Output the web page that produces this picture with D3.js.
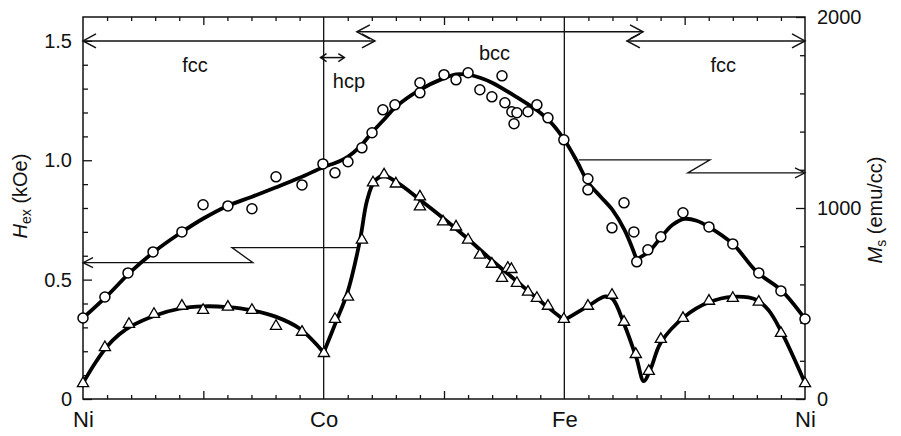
<!DOCTYPE html>
<html>
<head>
<meta charset="utf-8">
<script src="https://cdn.jsdelivr.net/npm/d3@7"></script>
<style>
  html, body { margin: 0; padding: 0; background: #fff; }
  svg { display: block; font-family: "Liberation Sans", Arial, Helvetica, sans-serif; }
</style>
</head>
<body>
<svg id="chart" width="901" height="436"></svg>
<script>
// Composition path Ni -> Co -> Fe -> Ni, 10 steps per leg
const endpointNames = ["Ni", "Co", "Fe", "Ni"];
const endpointPos = [0, 10, 20, 30];

// Tick labels
const hexTickValues = [0, 0.5, 1.0, 1.5];
const hexTickLabels = ["0", "0.5", "1.0", "1.5"];
const msTickValues = [0, 1000, 2000];
const msTickLabels = ["0", "1000", "2000"];

// Exchange field H_ex (kOe), measured (triangles)
const hexX = [0, 0.91, 1.91, 2.95, 4.11, 4.99, 6.02, 7.02, 8.02, 9.1, 10.01, 10.47, 11.01, 11.59, 12.05, 12.51, 13.0, 14.0, 14.0, 14.96, 15.5, 16.0, 16.49, 16.99, 17.41, 17.65, 17.8, 18.03, 18.49, 18.86, 19.32, 19.98, 20.98, 21.98, 22.48, 22.97, 23.51, 24.01, 24.93, 26.01, 27.0, 28.08, 29.0, 30];
const hexY = [0.067, 0.218, 0.315, 0.357, 0.391, 0.374, 0.387, 0.374, 0.307, 0.282, 0.193, 0.336, 0.429, 0.668, 0.908, 0.941, 0.903, 0.849, 0.807, 0.744, 0.723, 0.668, 0.605, 0.567, 0.508, 0.55, 0.545, 0.487, 0.45, 0.424, 0.391, 0.336, 0.391, 0.437, 0.324, 0.189, 0.118, 0.252, 0.34, 0.412, 0.424, 0.408, 0.277, 0.067];

// H_ex guide curve, one branch per leg (kinks at Co and Fe)
const hexCurve1X = [0, 0.5, 1, 1.5, 2, 3, 4, 5, 6, 7, 8, 9, 10];
const hexCurve1Y = [0.067, 0.15, 0.22, 0.27, 0.305, 0.35, 0.378, 0.388, 0.385, 0.372, 0.345, 0.295, 0.195];
const hexCurve2X = [10, 10.5, 11, 11.5, 11.8, 12.1, 12.5, 13, 14, 15, 16, 17, 18, 19, 20];
const hexCurve2Y = [0.195, 0.32, 0.45, 0.66, 0.83, 0.91, 0.935, 0.91, 0.835, 0.755, 0.67, 0.58, 0.495, 0.41, 0.33];
const hexCurve3X = [20, 21, 21.7, 22, 22.5, 23, 23.3, 23.6, 24, 25, 26, 27, 28, 28.5, 29, 29.5, 30];
const hexCurve3Y = [0.33, 0.39, 0.43, 0.42, 0.31, 0.17, 0.075, 0.13, 0.235, 0.345, 0.405, 0.428, 0.415, 0.37, 0.285, 0.18, 0.067];

// Saturation magnetization M_s (emu/cc), measured (circles)
const msX = [0, 0.91, 1.87, 2.91, 4.11, 4.99, 6.02, 7.02, 8.02, 9.1, 9.97, 10.47, 11.01, 11.59, 12.01, 12.46, 12.96, 14.0, 14.0, 15.0, 15.5, 16.0, 16.49, 16.99, 17.41, 17.53, 17.82, 17.91, 18.03, 18.49, 18.86, 19.32, 19.98, 20.98, 20.98, 21.98, 22.48, 22.89, 23.01, 23.47, 24.01, 24.93, 26.01, 27.0, 28.08, 29.0, 30];
const msY = [424, 534, 660, 770, 875, 1017, 1011, 996, 1163, 1121, 1231, 1184, 1242, 1315, 1394, 1514, 1540, 1603, 1656, 1698, 1671, 1708, 1619, 1582, 1692, 1551, 1504, 1441, 1499, 1504, 1540, 1472, 1357, 1153, 1095, 896, 1027, 875, 718, 781, 849, 975, 901, 812, 660, 566, 419];

// M_s guide curve (kink at the bcc/fcc minimum)
const msCurve1X = [0, 1, 2, 3, 4, 5, 6, 7, 8, 9, 10, 10.5, 11, 11.5, 12, 12.5, 13, 14, 15, 15.5, 16, 16.5, 17, 18, 19, 19.5, 20, 20.5, 21, 21.5, 22, 22.5, 23];
const msCurve1Y = [424, 540, 668, 775, 865, 945, 1011, 1058, 1107, 1158, 1215, 1237, 1268, 1320, 1394, 1462, 1530, 1619, 1680, 1700, 1698, 1682, 1656, 1582, 1499, 1440, 1357, 1250, 1132, 1060, 990, 885, 732];
const msCurve2X = [23, 23.5, 24, 24.5, 25, 25.5, 26, 27, 28, 29, 30];
const msCurve2Y = [732, 770, 844, 912, 943, 933, 901, 812, 665, 571, 419];

// Crystal structure ranges along the composition path
const phaseNames = ["fcc", "hcp", "bcc", "fcc"];
const phaseFrom = [0, 9.87, 11.38, 22.6];
const phaseTo = [12.13, 10.86, 23.27, 30];
const phaseLabelPos = [4.65, 11.05, 17.1, 26.6];

// ---------------------------------------------------------------
const svg = d3.select("#chart");
const plotLeft = 83, plotRight = 805, plotTop = 17, plotBottom = 399;

const x = d3.scaleLinear().domain([0, 30]).range([plotLeft, plotRight]);
const yH = d3.scaleLinear().domain([0, 1.6]).range([plotBottom, plotTop]);
const yM = d3.scaleLinear().domain([0, 2000]).range([plotBottom, plotTop]);

const ink = "#111";
const tickFont = 20;

function styleAxis(g, fs) {
  g.attr("font-family", null).attr("font-size", fs);
  g.select(".domain").remove();
  g.selectAll(".tick line").attr("stroke", ink).attr("stroke-width", 1.3);
  g.selectAll(".tick text").attr("fill", ink);
}

// minor / major ticks on all four sides, pointing inward
const minorX = d3.range(1, 30).filter(v => v % 5 !== 0);
const majorX = [5, 15, 25];
svg.append("g").attr("transform", `translate(0,${plotBottom})`)
  .call(d3.axisBottom(x).tickValues(minorX).tickSize(-4).tickFormat(""))
  .call(g => styleAxis(g, tickFont));
svg.append("g").attr("transform", `translate(0,${plotBottom})`)
  .call(d3.axisBottom(x).tickValues(majorX).tickSize(-8).tickFormat(""))
  .call(g => styleAxis(g, tickFont));
svg.append("g").attr("transform", `translate(0,${plotTop})`)
  .call(d3.axisTop(x).tickValues(minorX).tickSize(-4).tickFormat(""))
  .call(g => styleAxis(g, tickFont));
svg.append("g").attr("transform", `translate(0,${plotTop})`)
  .call(d3.axisTop(x).tickValues(majorX).tickSize(-8).tickFormat(""))
  .call(g => styleAxis(g, tickFont));

// left axis: H_ex
const hexMinor = d3.range(1, 16).map(v => v / 10).filter((v, i) => (i + 1) % 5 !== 0);
svg.append("g").attr("transform", `translate(${plotLeft},0)`)
  .call(d3.axisLeft(yH).tickValues(hexMinor).tickSize(-5).tickFormat(""))
  .call(g => styleAxis(g, tickFont));
svg.append("g").attr("transform", `translate(${plotLeft},0)`)
  .call(d3.axisLeft(yH).tickValues(hexTickValues).tickSize(-9).tickPadding(11)
    .tickFormat((d, i) => hexTickLabels[i]))
  .call(g => styleAxis(g, tickFont));

// right axis: M_s
const msMinor = d3.range(200, 2000, 200).filter(v => v % 1000 !== 0);
svg.append("g").attr("transform", `translate(${plotRight},0)`)
  .call(d3.axisRight(yM).tickValues(msMinor).tickSize(-5).tickFormat(""))
  .call(g => styleAxis(g, tickFont));
svg.append("g").attr("transform", `translate(${plotRight},0)`)
  .call(d3.axisRight(yM).tickValues(msTickValues).tickSize(-9).tickPadding(12)
    .tickFormat((d, i) => msTickLabels[i]))
  .call(g => styleAxis(g, tickFont));

// element names under the composition axis
svg.append("g").attr("transform", `translate(0,${plotBottom})`)
  .call(d3.axisBottom(x).tickValues(endpointPos).tickSize(0).tickPadding(12)
    .tickFormat((d, i) => endpointNames[i]))
  .call(g => styleAxis(g, 22));

// plot frame and the Co / Fe dividers
svg.append("rect")
  .attr("x", plotLeft).attr("y", plotTop)
  .attr("width", plotRight - plotLeft).attr("height", plotBottom - plotTop)
  .attr("fill", "none").attr("stroke", ink).attr("stroke-width", 1.5);
svg.append("g").selectAll("line").data([10, 20]).join("line")
  .attr("x1", d => x(d)).attr("x2", d => x(d))
  .attr("y1", plotTop).attr("y2", plotBottom)
  .attr("stroke", ink).attr("stroke-width", 1.3);

// arrowhead helper: open chevron with tip at (px,py), dir = -1 left, +1 right
function chevron(px, py, dir, len, half) {
  return `M${px - dir * len},${py - half}L${px},${py}L${px - dir * len},${py + half}`;
}

// phase range arrows
const phaseRowY = [yH(1.5), yH(1.43), yH(1.538), yH(1.5)];
const phaseG = svg.append("g").attr("fill", "none").attr("stroke", ink).attr("stroke-width", 1.5);
phaseNames.forEach((name, i) => {
  const x0 = x(phaseFrom[i]), x1 = x(phaseTo[i]), yy = phaseRowY[i];
  const small = name === "hcp";
  const len = small ? 6 : 13, half = small ? 4 : 7;
  phaseG.append("path").attr("d", `M${x0},${yy}L${x1},${yy}`);
  phaseG.append("path").attr("d", chevron(x0, yy, -1, len, half));
  phaseG.append("path").attr("d", chevron(x1, yy, 1, len, half));
});
const phaseTextY = [72, 88, 60, 72];
svg.append("g").selectAll("text").data(phaseNames).join("text")
  .attr("x", (d, i) => x(phaseLabelPos[i]))
  .attr("y", (d, i) => phaseTextY[i])
  .attr("text-anchor", "middle")
  .attr("font-size", 20)
  .attr("fill", ink)
  .text(d => d);

// broken pointer arrows linking each curve to its axis
const hexPointer = [[11.5, 0.634], [6.19, 0.634], [7.06, 0.571], [0, 0.571]];
const msPointer = [[20.6, 1252], [26.05, 1252], [25.13, 1184], [30, 1184]];
const ptrG = svg.append("g").attr("fill", "none").attr("stroke", ink).attr("stroke-width", 1.3);
ptrG.append("path").attr("d", d3.line().x(d => x(d[0])).y(d => yH(d[1]))(hexPointer));
ptrG.append("path").attr("d", chevron(x(0), yH(0.571), -1, 10, 5));
ptrG.append("path").attr("d", d3.line().x(d => x(d[0])).y(d => yM(d[1]))(msPointer));
ptrG.append("path").attr("d", chevron(x(30), yM(1184), 1, 10, 5));

// guide curves
const curveG = svg.append("g").attr("fill", "none").attr("stroke", "#000")
  .attr("stroke-width", 3.8).attr("stroke-linejoin", "round").attr("stroke-linecap", "round");
const hexLine = d3.line().x(d => x(d[0])).y(d => yH(d[1])).curve(d3.curveCatmullRom.alpha(0.5));
const msLine = d3.line().x(d => x(d[0])).y(d => yM(d[1])).curve(d3.curveCatmullRom.alpha(0.5));
[[hexCurve1X, hexCurve1Y], [hexCurve2X, hexCurve2Y], [hexCurve3X, hexCurve3Y]].forEach(([xs, ys]) => {
  curveG.append("path").attr("d", hexLine(xs.map((v, i) => [v, ys[i]])));
});
[[msCurve1X, msCurve1Y], [msCurve2X, msCurve2Y]].forEach(([xs, ys]) => {
  curveG.append("path").attr("d", msLine(xs.map((v, i) => [v, ys[i]])));
});

// markers
svg.append("g").selectAll("circle").data(msX.map((v, i) => [v, msY[i]])).join("circle")
  .attr("cx", d => x(d[0])).attr("cy", d => yM(d[1])).attr("r", 5)
  .attr("fill", "#fff").attr("stroke", "#000").attr("stroke-width", 1.5);

const tri = "M0,-6L5.6,3.6L-5.6,3.6Z";
svg.append("g").selectAll("path").data(hexX.map((v, i) => [v, hexY[i]])).join("path")
  .attr("transform", d => `translate(${x(d[0])},${yH(d[1])})`)
  .attr("d", tri)
  .attr("fill", "#fff").attr("stroke", "#000").attr("stroke-width", 1.3).attr("stroke-linejoin", "miter");

// axis titles
const hexTitle = svg.append("text")
  .attr("transform", "translate(27,196) rotate(-90)")
  .attr("text-anchor", "middle").attr("font-size", 20).attr("fill", ink);
hexTitle.append("tspan").attr("font-style", "italic").text("H");
hexTitle.append("tspan").attr("font-size", 14).attr("dy", 4).text("ex");
hexTitle.append("tspan").attr("dy", -4).text(" (kOe)");

const msTitle = svg.append("text")
  .attr("transform", "translate(882,210) rotate(-90)")
  .attr("text-anchor", "middle").attr("font-size", 20).attr("fill", ink);
msTitle.append("tspan").attr("font-style", "italic").text("M");
msTitle.append("tspan").attr("font-size", 14).attr("dy", 4).text("s");
msTitle.append("tspan").attr("dy", -4).text(" (emu/cc)");
</script>
</body>
</html>
